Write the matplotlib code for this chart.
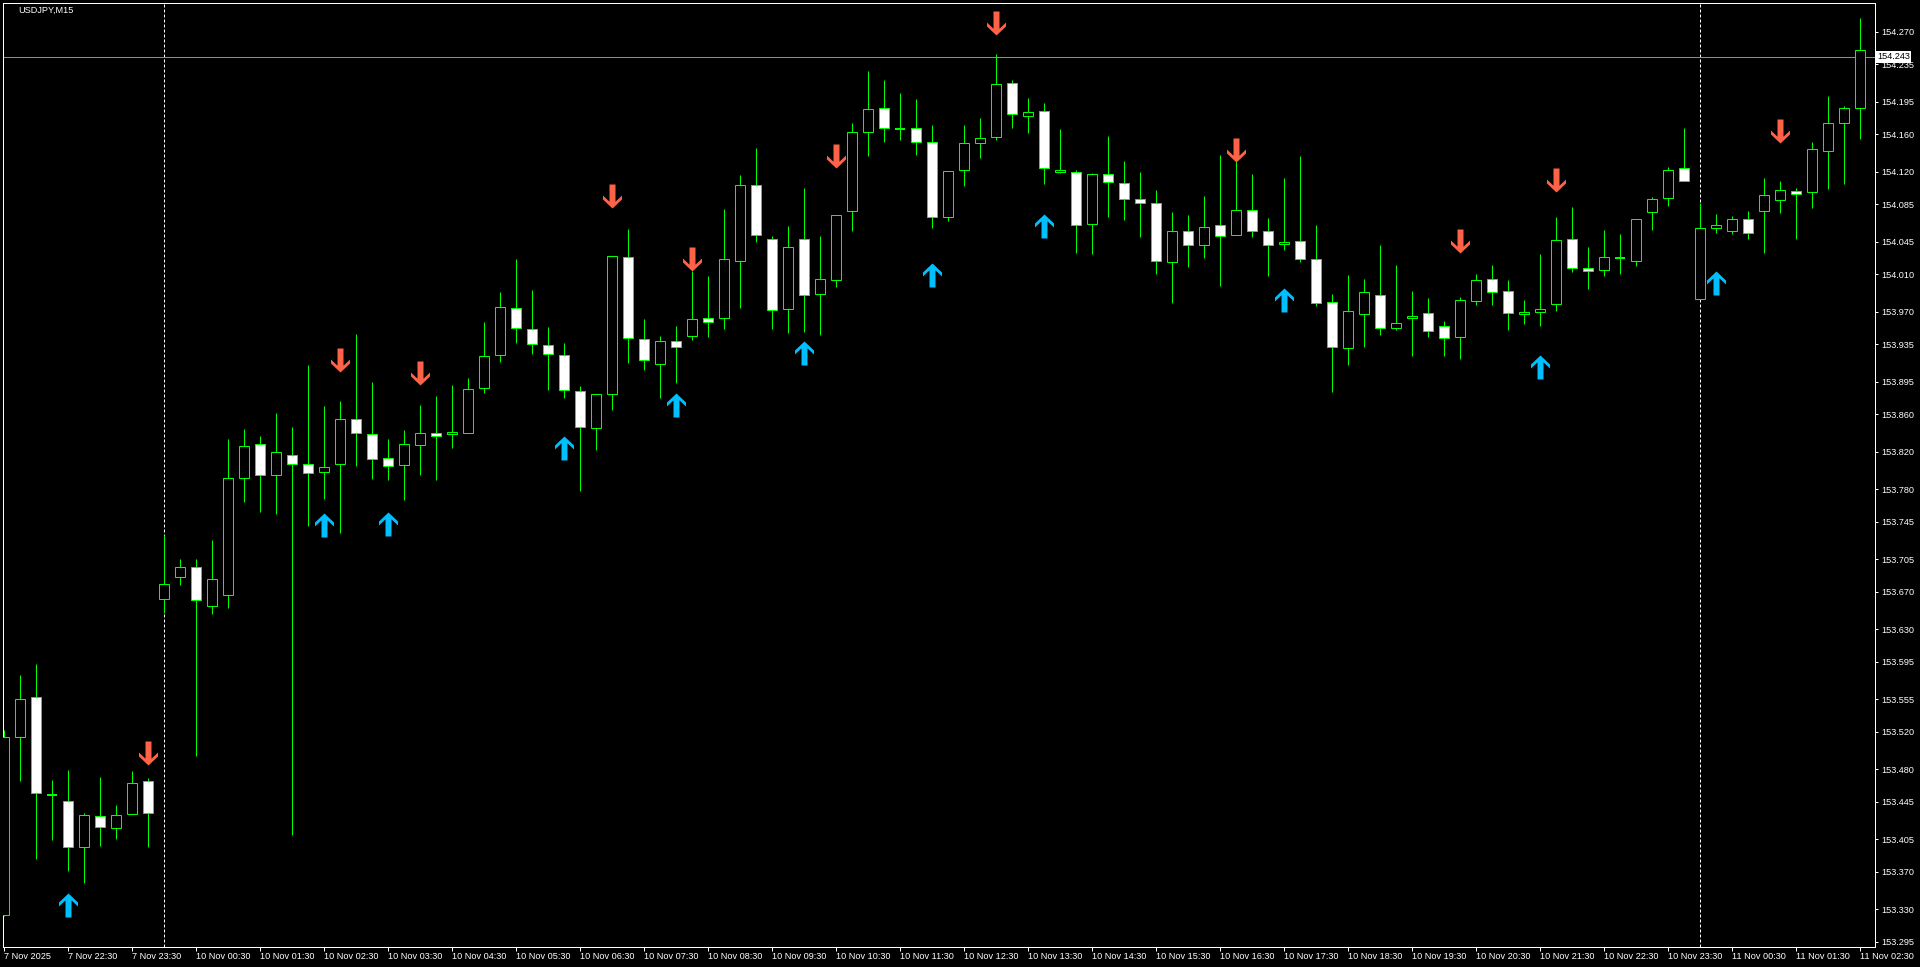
"""
USDJPY M15 candles with buy / sell arrows (MT4 style)
"""

import matplotlib
matplotlib.use("Agg")
import matplotlib.pyplot as plt
from matplotlib.path import Path
from matplotlib import transforms
import numpy as np
import pandas as pd

plt.rcParams['font.family'] = ['Liberation Sans', 'DejaVu Sans']

symbol = "USDJPY,M15"

# 7 Nov 21:30 .. 23:45, then Monday 10 Nov 00:00 .. 11 Nov 02:30
times = pd.date_range("2025-11-07 21:30", periods=10, freq="15min").append(
    pd.date_range("2025-11-10 00:00", periods=107, freq="15min"))

open_ = [153.324, 153.515, 153.557, 153.452, 153.446, 153.397, 153.430, 153.417, 153.432, 153.467,
         153.662, 153.686, 153.697, 153.655, 153.667, 153.792, 153.828, 153.795, 153.817, 153.807,
         153.798, 153.807, 153.855, 153.839, 153.813, 153.806, 153.827, 153.840, 153.839, 153.840,
         153.888, 153.924, 153.974, 153.952, 153.934, 153.924, 153.885, 153.846, 153.882, 154.029,
         153.941, 153.914, 153.939, 153.944, 153.963, 153.963, 154.024, 154.106, 154.048, 153.973,
         154.048, 153.989, 154.004, 154.078, 154.163, 154.188, 154.166, 154.167, 154.152, 154.072,
         154.122, 154.151, 154.157, 154.215, 154.180, 154.185, 154.120, 154.120, 154.064, 154.118,
         154.108, 154.091, 154.086, 154.023, 154.057, 154.042, 154.063, 154.052, 154.079, 154.057,
         154.043, 154.046, 154.026, 153.981, 153.931, 153.968, 153.988, 153.953, 153.963, 153.969,
         153.955, 153.943, 153.982, 154.005, 153.992, 153.968, 153.970, 153.978, 154.048, 154.017,
         154.015, 154.028, 154.024, 154.077, 154.092, 154.124, 153.984, 154.060, 154.056, 154.069,
         154.078, 154.090, 154.099, 154.098, 154.142, 154.172, 154.188]
high = [153.522, 153.581, 153.593, 153.469, 153.479, 153.433, 153.472, 153.442, 153.478, 153.471,
        153.731, 153.705, 153.705, 153.726, 153.834, 153.844, 153.837, 153.862, 153.847, 153.913,
        153.869, 153.874, 153.946, 153.895, 153.834, 153.843, 153.870, 153.880, 153.892, 153.899,
        153.959, 153.991, 154.026, 153.993, 153.954, 153.937, 153.891, 153.882, 154.030, 154.059,
        153.962, 153.944, 153.955, 154.014, 154.008, 154.080, 154.117, 154.145, 154.051, 154.062,
        154.103, 154.051, 154.074, 154.172, 154.228, 154.218, 154.204, 154.198, 154.170, 154.121,
        154.170, 154.178, 154.246, 154.218, 154.199, 154.194, 154.166, 154.122, 154.119, 154.158,
        154.132, 154.120, 154.100, 154.077, 154.074, 154.094, 154.138, 154.154, 154.118, 154.070,
        154.113, 154.137, 154.063, 153.989, 154.009, 154.005, 154.042, 154.020, 153.992, 153.985,
        153.960, 153.986, 154.011, 154.020, 154.004, 153.983, 154.032, 154.072, 154.082, 154.039,
        154.058, 154.053, 154.069, 154.093, 154.125, 154.167, 154.087, 154.075, 154.073, 154.078,
        154.113, 154.110, 154.103, 154.152, 154.201, 154.190, 154.285]
low = [153.323, 153.467, 153.384, 153.404, 153.371, 153.358, 153.398, 153.405, 153.432, 153.397,
       153.647, 153.677, 153.494, 153.646, 153.653, 153.766, 153.756, 153.753, 153.410, 153.741,
       153.770, 153.733, 153.805, 153.791, 153.790, 153.768, 153.795, 153.790, 153.824, 153.840,
       153.883, 153.916, 153.937, 153.925, 153.886, 153.878, 153.778, 153.822, 153.865, 153.915,
       153.908, 153.878, 153.894, 153.940, 153.943, 153.952, 153.974, 154.045, 153.952, 153.947,
       153.948, 153.945, 153.997, 154.056, 154.137, 154.152, 154.154, 154.138, 154.060, 154.067,
       154.105, 154.135, 154.154, 154.167, 154.162, 154.107, 154.119, 154.033, 154.032, 154.072,
       154.068, 154.050, 154.011, 153.979, 154.018, 154.028, 153.998, 154.052, 154.050, 154.008,
       154.036, 154.023, 153.976, 153.884, 153.913, 153.932, 153.945, 153.951, 153.923, 153.943,
       153.923, 153.919, 153.977, 153.977, 153.951, 153.957, 153.955, 153.971, 154.013, 153.994,
       154.008, 154.011, 154.019, 154.058, 154.083, 154.110, 153.984, 154.054, 154.053, 154.048,
       154.033, 154.076, 154.048, 154.081, 154.102, 154.107, 154.155]
close = [153.515, 153.555, 153.455, 153.452, 153.397, 153.431, 153.418, 153.431, 153.465, 153.433,
         153.678, 153.697, 153.661, 153.684, 153.792, 153.826, 153.795, 153.820, 153.807, 153.797,
         153.804, 153.855, 153.840, 153.812, 153.805, 153.828, 153.840, 153.837, 153.841, 153.887,
         153.923, 153.975, 153.953, 153.936, 153.925, 153.886, 153.847, 153.882, 154.030, 153.942,
         153.918, 153.939, 153.932, 153.962, 153.959, 154.026, 154.106, 154.052, 153.972, 154.039,
         153.988, 154.005, 154.074, 154.163, 154.187, 154.167, 154.166, 154.152, 154.072, 154.121,
         154.151, 154.156, 154.214, 154.182, 154.184, 154.124, 154.122, 154.063, 154.118, 154.109,
         154.091, 154.087, 154.024, 154.056, 154.041, 154.061, 154.051, 154.079, 154.057, 154.041,
         154.045, 154.027, 153.979, 153.932, 153.971, 153.991, 153.953, 153.958, 153.966, 153.949,
         153.942, 153.983, 154.004, 153.991, 153.969, 153.970, 153.973, 154.047, 154.017, 154.014,
         154.029, 154.028, 154.069, 154.091, 154.122, 154.110, 154.060, 154.063, 154.069, 154.054,
         154.095, 154.100, 154.096, 154.144, 154.172, 154.188, 154.250]

# indicator arrows: bar index and price of the arrow centre
up_idx = [4, 20, 24, 35, 42, 50, 58, 65, 80, 96, 107]
up_price = [153.335, 153.742, 153.743, 153.824, 153.870, 153.926, 154.009, 154.062, 153.983, 153.911, 154.001]
down_idx = [9, 21, 26, 38, 43, 52, 62, 77, 91, 97, 111]
down_price = [153.497, 153.918, 153.904, 154.094, 154.026, 154.137, 154.279, 154.143, 154.046, 154.111, 154.164]

bid = 154.243

price_ticks = [154.270, 154.235, 154.195, 154.160, 154.120, 154.085, 154.045, 154.010, 153.970,
               153.935, 153.895, 153.860, 153.820, 153.780, 153.745, 153.705, 153.670, 153.630,
               153.595, 153.555, 153.520, 153.480, 153.445, 153.405, 153.370, 153.330, 153.295]

GREEN = "#00ff00"
BLUE = "#00bfff"
RED = "#ff6347"
PX = 0.72  # one pixel in points at dpi 100
W, H = 1920, 967

fig = plt.figure(figsize=(W / 100, H / 100), dpi=100, facecolor="black")
ax = fig.add_axes([2.5 / W, 20.5 / H, 1872 / W, 944 / H], facecolor="black")

o = np.array(open_)
h = np.array(high)
l = np.array(low)
c = np.array(close)
x = np.arange(len(o))

# wicks
ax.vlines(x, l, h, color=GREEN, lw=PX, zorder=2)

# bodies: bull = black, bear = white, doji = a dash
half = 5 / 16
doji = o == c
bull = (c > o)
bear = (c < o)
bot = np.minimum(o, c)
hgt = np.abs(c - o)
ax.bar(x[bull], hgt[bull], 2 * half, bot[bull], facecolor="black", edgecolor=GREEN, lw=PX, zorder=3)
ax.bar(x[bear], hgt[bear], 2 * half, bot[bear], facecolor="white", edgecolor=GREEN, lw=PX, zorder=3)
ax.hlines(o[doji], x[doji] - half, x[doji] + half, color=GREEN, lw=2 * PX, zorder=3)

# arrows
up_verts = [(0, 12), (9.5, 3), (9.5, -1), (3, 5.2), (3, -12), (-3, -12), (-3, 5.2), (-9.5, -1), (-9.5, 3), (0, 12)]
up_marker = Path(up_verts, closed=True)
down_marker = Path([(vx, -vy) for vx, vy in up_verts], closed=True)
ax.plot(up_idx, up_price, ls="none", marker=up_marker, markersize=24 * PX,
        color=BLUE, markeredgewidth=0, zorder=5)
ax.plot(down_idx, down_price, ls="none", marker=down_marker, markersize=24 * PX,
        color=RED, markeredgewidth=0, zorder=5)

# period separators and bid line
day_breaks = [i for i in range(1, len(times)) if times[i].date() != times[i - 1].date()]
for i in day_breaks:
    ax.axvline(i, color="white", lw=PX, ls=(0, (3, 2)), zorder=1)
ax.axhline(bid, color="#8c8c8c", lw=PX, zorder=1)

ax.set_xlim(-1 / 16, 1871 / 16)
ax.set_ylim(153.29015, 154.30127)

for s in ax.spines.values():
    s.set_color("white")
    s.set_linewidth(PX)

# time axis
lab_pos = x[::4]
labels = [f"{t.day} {t:%b %H:%M}" for t in times[::4]]
labels[0] = f"{times[0].day} {times[0]:%b %Y}"
ax.set_xticks(lab_pos)
ax.set_xticklabels(labels, ha="left")
ax.tick_params(axis="x", colors="white", length=4 * PX, width=PX, pad=1.2, labelsize=6.6)

# price axis
ax.yaxis.tick_right()
ax.set_yticks(price_ticks)
ax.set_yticklabels([f"{p:.3f}" for p in price_ticks])
ax.tick_params(axis="y", colors="white", length=3 * PX, width=PX, pad=3, labelsize=6.6)

# bid label box
tr = transforms.blended_transform_factory(fig.transFigure, ax.transData)
fig.text(1877.5 / W, bid, f"{bid:.3f}", transform=tr, color="black", fontsize=6.6,
         va="center", ha="left",
         bbox=dict(facecolor="white", edgecolor="none", boxstyle="square,pad=0.12"))

fig.text(18 / W, 1 - 10.7 / H, symbol, color="white", fontsize=6.6, va="center", ha="left")

fig.savefig("out.png", dpi=100, facecolor="black")
